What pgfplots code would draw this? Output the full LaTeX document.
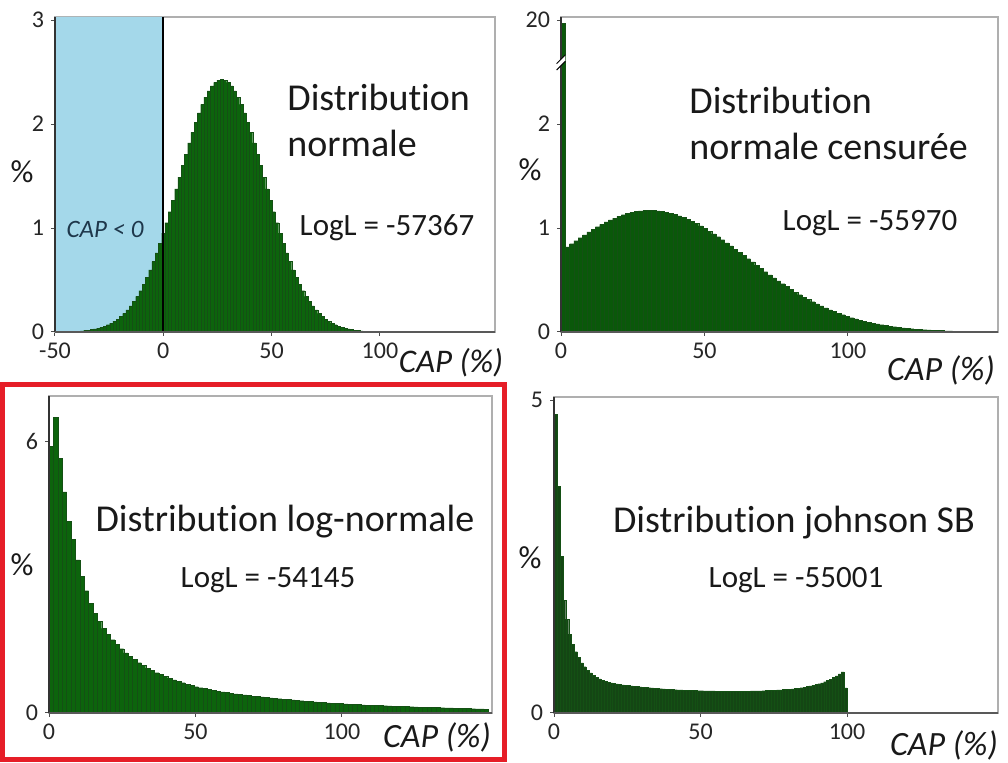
\documentclass[border=0pt]{standalone}
\usepackage{fontspec}
\setmainfont{Carlito}[Ligatures=NoCommon, RawFeature={-liga;-clig;-calt}]
\usepackage{pgfplots}
\pgfplotsset{compat=1.18}
\usepackage{pgfplotstable}
\definecolor{hA}{RGB}{12,100,12}
\definecolor{hB}{RGB}{10,88,10}
\definecolor{hD}{RGB}{20,70,20}
\definecolor{hE}{RGB}{20,80,20}
\definecolor{bluebg}{RGB}{164,216,234}
\definecolor{boxgray}{RGB}{175,175,175}
\definecolor{txt}{RGB}{25,25,25}
\definecolor{capblue}{RGB}{30,55,75}
\definecolor{redbox}{RGB}{230,30,40}
\tikzset{axl/.style={black!80, line width=0.6pt}}
\newcommand{\Distr}{Distribut\kern0pt ion}
\begin{document}
% Panel 1: normal distribution, bins of 1.5 centred from -43.5
\pgfplotstableread[row sep=\\, header=false]{
0.0040\\ 0.0053\\ 0.0069\\ 0.0089\\ 0.0114\\ 0.0146\\ 0.0186\\ 0.0235\\ 0.0296\\ 0.0369\\
0.0459\\ 0.0567\\ 0.0697\\ 0.0851\\ 0.1033\\ 0.1247\\ 0.1498\\ 0.1788\\ 0.2121\\ 0.2502\\
0.2935\\ 0.342\\ 0.397\\ 0.457\\ 0.524\\ 0.597\\ 0.677\\ 0.762\\ 0.853\\ 0.950\\
1.051\\ 1.157\\ 1.266\\ 1.377\\ 1.489\\ 1.601\\ 1.711\\ 1.818\\ 1.921\\ 2.018\\
2.108\\ 2.189\\ 2.260\\ 2.320\\ 2.367\\ 2.402\\ 2.423\\
2.430\\
2.423\\ 2.402\\ 2.367\\ 2.320\\ 2.260\\ 2.189\\ 2.108\\
2.018\\ 1.921\\ 1.818\\ 1.711\\ 1.601\\ 1.489\\ 1.377\\ 1.266\\ 1.157\\ 1.051\\
0.950\\ 0.853\\ 0.762\\ 0.677\\ 0.597\\ 0.524\\ 0.457\\ 0.397\\ 0.342\\ 0.2935\\
0.2502\\ 0.2121\\ 0.1788\\ 0.1498\\ 0.1247\\ 0.1033\\ 0.0851\\ 0.0697\\ 0.0567\\ 0.0459\\
0.0369\\ 0.0296\\ 0.0235\\ 0.0186\\ 0.0146\\ 0.0114\\ 0.0089\\ 0.0069\\ 0.0053\\ 0.0040\\
}\tabA
% Panel 2: censored normal (first bin = mass at 0, drawn at 20 on broken axis)
\pgfplotstableread[row sep=\\, header=false]{
2.97\\ 0.818\\ 0.849\\ 0.878\\ 0.907\\ 0.935\\ 0.962\\ 0.988\\ 1.013\\ 1.036\\
1.058\\ 1.078\\ 1.096\\ 1.113\\ 1.128\\ 1.140\\ 1.150\\ 1.159\\ 1.165\\ 1.168\\
1.170\\ 1.169\\ 1.166\\ 1.161\\ 1.153\\ 1.144\\ 1.132\\ 1.118\\ 1.102\\ 1.084\\
1.065\\ 1.044\\ 1.021\\ 0.997\\ 0.971\\ 0.944\\ 0.917\\ 0.888\\ 0.858\\ 0.828\\
0.798\\ 0.767\\ 0.736\\ 0.705\\ 0.674\\ 0.643\\ 0.612\\ 0.580\\ 0.550\\ 0.520\\
0.491\\ 0.464\\ 0.437\\ 0.410\\ 0.384\\ 0.359\\ 0.336\\ 0.313\\ 0.291\\ 0.270\\
0.250\\ 0.231\\ 0.213\\ 0.196\\ 0.181\\ 0.166\\ 0.152\\ 0.138\\ 0.126\\ 0.115\\
0.104\\ 0.0946\\ 0.0856\\ 0.0773\\ 0.0697\\ 0.0627\\ 0.0563\\ 0.0504\\ 0.0451\\ 0.0403\\
0.0359\\ 0.0319\\ 0.0283\\ 0.0251\\ 0.0222\\ 0.0196\\ 0.0172\\ 0.0151\\ 0.0133\\ 0.0116\\
0.0101\\ 0.0088\\ 0.0077\\ 0.0066\\
}\tabB
% Panel 3: log-normal
\pgfplotstableread[row sep=\\, header=false]{
5.89\\ 6.53\\ 5.63\\ 4.88\\ 4.23\\ 3.83\\ 3.38\\ 3.02\\ 2.70\\ 2.42\\
2.20\\ 2.02\\ 1.87\\ 1.74\\ 1.62\\ 1.51\\ 1.42\\ 1.33\\ 1.25\\ 1.18\\
1.11\\ 1.05\\ 0.99\\ 0.94\\ 0.89\\ 0.85\\ 0.81\\ 0.77\\ 0.73\\ 0.70\\
0.67\\ 0.64\\ 0.61\\ 0.58\\ 0.56\\ 0.54\\ 0.52\\ 0.50\\ 0.48\\ 0.465\\
0.45\\ 0.435\\ 0.42\\ 0.41\\ 0.40\\ 0.385\\ 0.375\\ 0.365\\ 0.355\\ 0.345\\
0.335\\ 0.325\\ 0.315\\ 0.307\\ 0.298\\ 0.289\\ 0.280\\ 0.271\\ 0.262\\ 0.253\\
0.245\\ 0.238\\ 0.231\\ 0.225\\ 0.219\\ 0.213\\ 0.207\\ 0.201\\ 0.196\\ 0.191\\
0.186\\ 0.181\\ 0.176\\ 0.172\\ 0.168\\ 0.164\\ 0.160\\ 0.156\\ 0.152\\ 0.148\\
0.145\\ 0.141\\ 0.138\\ 0.135\\ 0.132\\ 0.129\\ 0.126\\ 0.123\\ 0.120\\ 0.117\\
0.114\\ 0.111\\ 0.108\\ 0.105\\ 0.102\\ 0.099\\ 0.096\\ 0.093\\ 0.090\\ 0.087\\
}\tabC
% Panel 4: Johnson SB, bins of 1
\pgfplotstableread[row sep=\\, header=false]{
4.77\\ 3.62\\ 2.50\\ 1.80\\ 1.50\\ 1.26\\ 1.10\\ 0.98\\ 0.89\\ 0.80\\
0.74\\ 0.68\\ 0.64\\ 0.60\\ 0.57\\ 0.545\\ 0.525\\ 0.508\\ 0.495\\ 0.482\\
0.472\\ 0.464\\ 0.457\\ 0.450\\ 0.444\\ 0.438\\ 0.433\\ 0.428\\ 0.423\\ 0.418\\
0.413\\ 0.409\\ 0.405\\ 0.401\\ 0.397\\ 0.393\\ 0.389\\ 0.385\\ 0.382\\ 0.379\\
0.376\\ 0.373\\ 0.370\\ 0.368\\ 0.366\\ 0.364\\ 0.362\\ 0.360\\ 0.358\\ 0.357\\
0.356\\ 0.355\\ 0.354\\ 0.353\\ 0.352\\ 0.351\\ 0.350\\ 0.350\\ 0.349\\ 0.349\\
0.349\\ 0.349\\ 0.349\\ 0.349\\ 0.350\\ 0.350\\ 0.351\\ 0.352\\ 0.353\\ 0.354\\
0.355\\ 0.357\\ 0.359\\ 0.361\\ 0.363\\ 0.365\\ 0.368\\ 0.371\\ 0.374\\ 0.378\\
0.382\\ 0.387\\ 0.392\\ 0.398\\ 0.405\\ 0.413\\ 0.422\\ 0.432\\ 0.443\\ 0.455\\
0.468\\ 0.483\\ 0.500\\ 0.520\\ 0.542\\ 0.567\\ 0.595\\ 0.625\\ 0.655\\ 0.40\\
}\tabD
\begin{tikzpicture}
\path[use as bounding box] (0,0) rectangle (504pt,381.5pt);
\pgfplotsset{
  panel/.style={scale only axis, anchor=south west, ymin=0, clip=false,
    axis line style={draw=boxgray, line width=0.6pt},
    tick align=outside, tick pos=left, major tick length=2pt,
    tick style={black!70, line width=0.5pt},
    tick label style={font=\fontsize{12}{14}\selectfont, text=black!85},
    xticklabel style={yshift=0pt}},
  hist/.style={ybar, bar width=1.5, bar shift=0pt, line width=0.12pt, draw=hE}
}
% ---------- Panel 1
\begin{axis}[panel, at={(27.5pt,215.5pt)}, width=220pt, height=157.5pt,
  xmin=-50, xmax=153.1, ymax=3.03,
  xtick={-50,0,50,100}, xticklabels={-50,0,50,100},
  ytick={0,1,2,3}, yticklabels={0,1,2,3}]
\addplot[fill=bluebg, draw=none] coordinates {(-50,0) (-50,3.03) (0,3.03) (0,0)} \closedcycle;
\addplot[hist, fill=hA] table[x expr=\coordindex*1.5-43.5, y index=0] {\tabA};
\draw[black, line width=0.9pt] (axis cs:0,0) -- (axis cs:0,3.03);
\draw[axl] (rel axis cs:0,0) -- (rel axis cs:0,1);
\draw[axl, black!65] (rel axis cs:0,0) -- (rel axis cs:1,0);
\end{axis}
% ---------- Panel 2
\begin{axis}[panel, at={(280.5pt,215.5pt)}, width=218.5pt, height=157.5pt,
  xmin=0, xmax=152.3, ymax=3.03,
  xtick={0,50,100}, xticklabels={0,50,100},
  ytick={0,1,2,3}, yticklabels={0,1,2,20}]
\addplot[hist, fill=hB] table[x expr=\coordindex*1.5+0.75, y index=0] {\tabB};
\draw[axl] (rel axis cs:0,0) -- (rel axis cs:0,1);
\draw[axl, black!65] (rel axis cs:0,0) -- (rel axis cs:1,0);
\fill[white] ([xshift=-2.2pt,yshift=-4.2pt]axis cs:0,2.6) -- ([xshift=2.2pt,yshift=0.2pt]axis cs:0,2.6)
   -- ([xshift=2.2pt,yshift=3.4pt]axis cs:0,2.6) -- ([xshift=-2.2pt,yshift=-1.0pt]axis cs:0,2.6) -- cycle;
\draw[black, line width=0.5pt] ([xshift=-2.2pt,yshift=-4.2pt]axis cs:0,2.6) -- ([xshift=2.2pt,yshift=0.2pt]axis cs:0,2.6);
\draw[black, line width=0.5pt] ([xshift=-2.2pt,yshift=-1.0pt]axis cs:0,2.6) -- ([xshift=2.2pt,yshift=3.4pt]axis cs:0,2.6);
\end{axis}
% ---------- Panel 3
\begin{axis}[panel, at={(24.5pt,25pt)}, width=221.5pt, height=158.5pt,
  xmin=0, xmax=151.2, ymax=7,
  xtick={0,50,100}, xticklabels={0,50,100},
  ytick={0,6}, yticklabels={0,6}]
\addplot[hist, fill=hA] table[x expr=\coordindex*1.5+0.75, y index=0] {\tabC};
\draw[axl] (rel axis cs:0,0) -- (rel axis cs:0,1);
\draw[axl, black!65] (rel axis cs:0,0) -- (rel axis cs:1,0);
\end{axis}
% ---------- Panel 4
\begin{axis}[panel, at={(277pt,25pt)}, width=222pt, height=158pt,
  xmin=0, xmax=151.5, ymax=5.05,
  xtick={0,50,100}, xticklabels={0,50,100},
  ytick={0,5}, yticklabels={0,5}]
\addplot[hist, bar width=1, fill=hD] table[x expr=\coordindex+0.5, y index=0] {\tabD};
\draw[axl] (rel axis cs:0,0) -- (rel axis cs:0,1);
\draw[axl, black!65] (rel axis cs:0,0) -- (rel axis cs:1,0);
\end{axis}
% ---------- red frame
\draw[redbox, line width=2.5pt] (1.25pt,1.75pt) rectangle (252.25pt,189.25pt);
% ---------- texts
\begin{scope}[every node/.style={text=txt, inner sep=0pt}]
\node[anchor=base west, font=\fontsize{19}{22}\selectfont] at (143.5pt,326pt) {\Distr};
\node[anchor=base west, font=\fontsize{19}{22}\selectfont] at (143.5pt,303pt) {normale};
\node[font=\fontsize{15.5}{18}\selectfont] at (193.5pt,267.5pt) {LogL = -57367};
\node[anchor=base west, font=\fontsize{19}{22}\selectfont] at (344.5pt,324.5pt) {\Distr};
\node[anchor=base west, font=\fontsize{19}{22}\selectfont] at (344.5pt,301.5pt) {normale censurée};
\node[font=\fontsize{15.5}{18}\selectfont] at (435pt,270pt) {LogL = -55970};
\node[font=\fontsize{19}{22}\selectfont] at (142.5pt,120.5pt) {\Distr{} log-normale};
\node[font=\fontsize{15.5}{18}\selectfont] at (134pt,91.5pt) {LogL = -54145};
\node[font=\fontsize{19}{22}\selectfont] at (397pt,120pt) {\Distr{} johnson SB};
\node[font=\fontsize{15.5}{18}\selectfont] at (398pt,91.5pt) {LogL = -55001};
\node[font=\fontsize{16}{18}\selectfont] at (11pt,295.5pt) {\%};
\node[font=\fontsize{16}{18}\selectfont] at (265pt,296.5pt) {\%};
\node[font=\fontsize{16}{18}\selectfont] at (11pt,99pt) {\%};
\node[font=\fontsize{16}{18}\selectfont] at (265pt,102.5pt) {\%};
\node[font=\fontsize{16.5}{20}\selectfont\itshape] at (225.5pt,200pt) {CAP (\%)};
\node[font=\fontsize{17}{20}\selectfont\itshape] at (470.5pt,196.5pt) {CAP (\%)};
\node[font=\fontsize{17}{20}\selectfont\itshape] at (218.5pt,13pt) {CAP (\%)};
\node[font=\fontsize{17}{20}\selectfont\itshape] at (472pt,9pt) {CAP (\%)};
\node[font=\fontsize{12.5}{15}\selectfont\itshape, text=capblue] at (52.5pt,267pt) {CAP < 0};
\end{scope}
\end{tikzpicture}
\end{document}
